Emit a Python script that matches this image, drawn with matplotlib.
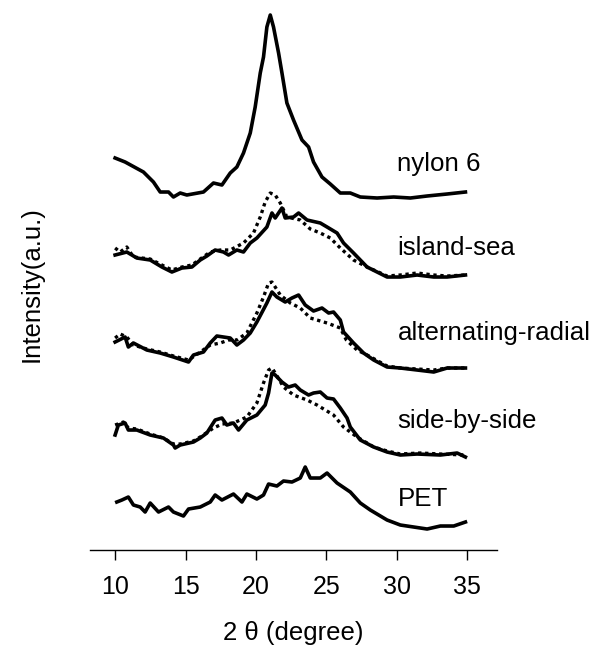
import matplotlib
matplotlib.use("Agg")
import matplotlib.pyplot as plt

plt.rcParams['font.family'] = ['Liberation Sans', 'DejaVu Sans']

# ---- diffraction patterns (2theta in degrees, intensity in a.u.) ----
nylon_x = [10.00, 10.71, 12.01, 12.72, 13.20, 13.79, 14.14, 14.62, 15.09, 16.27, 16.98, 17.58,
           18.17, 18.64, 19.11, 19.59, 19.94, 20.30, 20.53, 20.77, 21.01, 21.24, 21.60, 21.84,
           22.19, 22.66, 23.26, 23.73, 24.08, 24.68, 25.27, 25.98, 26.69, 27.40, 28.59, 29.77,
           30.95, 32.14, 33.56, 34.86]
nylon_y = [42, 38, 28, 18, 8, 8, 3, 7, 5, 8, 17, 15,
           27, 33, 47, 67, 93, 127, 143, 173, 185, 173, 147, 127,
           97, 80, 60, 53, 38, 23, 16, 7, 7, 3, 2, 3,
           2, 4, 6, 8]

island_x = [10.00, 10.83, 11.54, 12.49, 13.32, 14.03, 14.74, 15.45, 16.04, 16.51, 17.10, 17.69,
            18.05, 18.64, 19.11, 19.59, 20.06, 20.77, 21.13, 21.36, 21.84, 22.07, 22.66, 23.02,
            23.62, 24.56, 25.04, 25.75, 26.21, 26.92, 27.88, 29.30, 30.24, 31.43, 32.61, 33.56,
            34.86]
island_y = [5, 8, 2, 0, -7, -12, -8, -7, 0, 4, 10, 8,
            5, 10, 8, 17, 22, 33, 47, 42, 52, 42, 43, 47,
            40, 37, 33, 27, 17, 7, -7, -17, -17, -15, -17, -17,
            -15]
island_dot_x = [10.00, 10.36, 10.83, 11.30, 12.49, 13.32, 14.03, 14.74, 15.45, 16.04, 16.75, 17.46,
                18.17, 19.11, 19.82, 20.30, 20.65, 21.01, 21.36, 21.72, 22.19, 23.14, 23.85, 24.56,
                25.27, 25.98, 26.92, 27.88, 29.30, 30.24, 31.43, 32.61, 33.56, 34.86]
island_dot_y = [12, 8, 13, 3, 1, -5, -10, -7, -5, 1, 8, 10,
                10, 17, 27, 43, 58, 67, 65, 57, 43, 40, 31, 27,
                22, 12, 0, -7, -16, -15, -13, -15, -16, -15]

alt_x = [10.00, 10.71, 10.94, 11.30, 12.25, 13.20, 14.14, 15.21, 15.56, 16.27, 16.75, 17.22,
         17.69, 18.17, 18.64, 19.11, 19.59, 20.06, 20.77, 21.13, 21.48, 22.07, 22.55, 23.02,
         23.49, 24.08, 24.68, 25.15, 25.50, 25.98, 26.21, 26.92, 27.63, 28.35, 29.30, 30.24,
         31.43, 32.61, 33.56, 34.86]
alt_y = [8, 13, 3, 7, 0, -3, -7, -12, -5, -2, 7, 14,
         13, 12, 5, 10, 17, 28, 47, 58, 53, 48, 52, 55,
         45, 39, 42, 37, 38, 30, 18, 7, -3, -10, -17, -18,
         -20, -22, -18, -18]
alt_dot_x = [10.00, 10.36, 10.83, 11.30, 12.25, 13.20, 14.14, 15.21, 16.04, 16.75, 17.46, 18.05,
             18.64, 19.35, 20.06, 20.53, 20.89, 21.13, 21.36, 21.72, 22.43, 23.14, 23.85, 25.04,
             25.98, 26.41, 27.17, 27.88, 29.30, 30.24, 31.43, 32.61, 33.56, 34.86]
alt_dot_y = [12, 16, 13, 5, 1, -2, -6, -10, -2, 5, 7, 10,
             10, 17, 37, 53, 67, 68, 63, 55, 47, 42, 32, 27,
             22, 10, 0, -5, -16, -18, -19, -20, -18, -18]

side_x = [10.00, 10.23, 10.71, 10.94, 11.54, 12.49, 13.43, 14.14, 14.26, 14.62, 15.56, 16.04,
          16.51, 17.10, 17.58, 17.93, 18.40, 18.76, 19.35, 20.06, 20.65, 20.89, 21.13, 21.36,
          21.84, 22.31, 22.78, 23.14, 23.73, 24.08, 24.56, 25.04, 25.50, 25.98, 26.46, 26.69,
          27.40, 28.35, 29.30, 30.24, 31.43, 33.08, 34.27, 34.86]
side_y = [5, 15, 17, 10, 10, 5, 2, -5, -8, -5, -2, 2,
          7, 20, 22, 15, 17, 10, 20, 25, 35, 47, 67, 65,
          58, 53, 55, 50, 45, 47, 48, 42, 41, 32, 22, 13,
          0, -7, -12, -15, -14, -15, -13, -17]
side_dot_x = [10.00, 10.59, 10.94, 11.54, 12.49, 13.43, 14.14, 14.62, 15.56, 16.04, 16.98, 17.60,
              18.40, 19.35, 20.06, 20.53, 20.89, 21.13, 21.36, 21.95, 22.66, 23.62, 24.33, 25.50,
              26.21, 27.17, 28.35, 29.30, 30.24, 31.66, 33.08, 34.86]
side_dot_y = [15, 18, 12, 11, 6, 2, -4, -4, -1, 3, 12, 16,
              17, 23, 37, 57, 70, 72, 67, 53, 45, 40, 35, 25,
              13, 3, -7, -11, -14, -13, -14, -15]

pet_x = [10.12, 10.48, 10.94, 11.30, 11.78, 12.13, 12.49, 13.08, 13.79, 14.14, 14.85, 15.21,
         16.04, 16.75, 17.10, 17.58, 18.40, 19.00, 19.35, 20.06, 20.53, 20.89, 21.48, 21.95,
         22.55, 23.14, 23.49, 23.85, 24.56, 25.04, 25.75, 26.69, 27.40, 28.11, 29.30, 30.24,
         31.19, 32.14, 33.08, 34.03, 34.86]
pet_y = [28, 30, 33, 25, 23, 18, 27, 18, 23, 18, 14, 21,
         23, 28, 35, 30, 36, 28, 36, 31, 35, 46, 44, 49,
         48, 52, 63, 52, 52, 57, 47, 38, 27, 20, 10, 5,
         3, 1, 4, 4, 8]

sample_names = ["nylon 6", "island-sea", "alternating-radial", "side-by-side", "PET"]
x_ticks = [10, 15, 20, 25, 30, 35]

# vertical stacking of the patterns and label heights
offsets = [350, 290, 200, 110, 20]
label_heights = [386, 302, 217, 129, 51]

fig = plt.figure(figsize=(6.05, 6.65), dpi=100)
ax = fig.add_axes([0.1488, 0.1729, 0.6727, 0.8271])

solid = [(nylon_x, nylon_y), (island_x, island_y), (alt_x, alt_y), (side_x, side_y), (pet_x, pet_y)]
dotted = [None, (island_dot_x, island_dot_y), (alt_dot_x, alt_dot_y), (side_dot_x, side_dot_y), None]

lw = 2.6
for (sx, sy), dot, off in zip(solid, dotted, offsets):
    if dot is not None:
        dx, dy = dot
        ax.plot(dx, [v + off for v in dy], color="black", lw=2.4,
                linestyle=(0, (1.0, 1.1)), solid_capstyle="butt", zorder=2)
    ax.plot(sx, [v + off for v in sy], color="black", lw=lw,
            solid_joinstyle="round", zorder=3)

for name, h in zip(sample_names, label_heights):
    ax.text(30.03, h, name, fontsize=18.6, ha="left", va="center")

ax.set_xlim(8.22, 37.1)
ax.set_ylim(0, 550)
ax.set_xticks(x_ticks)
ax.set_yticks([])
for side in ("top", "right", "left"):
    ax.spines[side].set_visible(False)
ax.spines["bottom"].set_linewidth(1.0)
ax.tick_params(axis="x", direction="out", length=7, width=1.0, pad=11, labelsize=18)

fig.text(0.485, 1 - 633 / 665, "2 \u03b8 (degree)", fontsize=18.5, ha="center", va="center")
fig.text(32 / 605, 1 - 284 / 665, "Intensity(a.u.)", fontsize=18.5, rotation=90,
         ha="center", va="center")

fig.savefig("out.png", dpi=100)
